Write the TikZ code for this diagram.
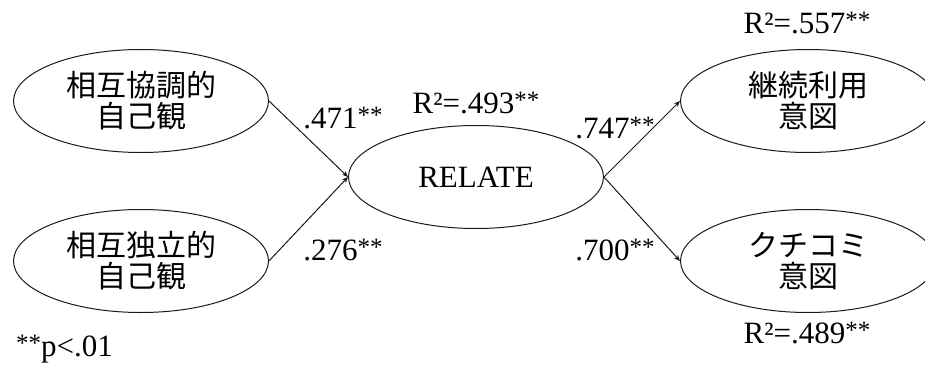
\documentclass[tikz,border=0pt]{standalone}
\usepackage{fontspec}
\setmainfont{Liberation Serif}
\newfontfamily\jafont{Noto Sans CJK JP}
\usetikzlibrary{
  arrows.meta,
  shapes.geometric,
  positioning
}
\definecolor{pmLine}{HTML}{1A1A1A}
\newcommand{\sigmark}{\raisebox{0.18em}{\fontsize{25}{25}\selectfont **}}
\tikzset{
  latent/.style={
    draw=pmLine, ellipse, line width=1pt, minimum width=255pt, minimum height=103pt,
    inner sep=0pt, align=center, font=\fontsize{30}{31}\selectfont\jafont
  },
  pathline/.style={-{Stealth[length=6pt, width=5pt]}, line width=1pt, pmLine},
  coef/.style={font=\fontsize{31}{32}\selectfont, inner sep=0pt}
}

\begin{document}
\begin{tikzpicture}[x=1pt, y=-1pt]
  \clip (0,0) rectangle (925,369);
  % latent variables
  \node[latent] (inter) at (141,101) {相互協調的\\自己観};
  \node[latent] (indep) at (141,261) {相互独立的\\自己観};
  \node[latent, font=\fontsize{31}{32}\selectfont] (relate) at (476,177) {RELATE};
  \node[latent] (cont) at (808,101) {継続利用\\意図};
  \node[latent] (wom) at (808,261) {クチコミ\\意図};
  % paths
  \draw[pathline] (inter.east) -- (relate.west);
  \draw[pathline] (indep.east) -- (relate.west);
  \draw[pathline] (relate.east) -- (cont.west);
  \draw[pathline] (relate.east) -- (wom.west);
  % coefficients
  \node[coef] (c1) at (343,118) {.471\sigmark};
  \node[coef] (c2) at (343,250) {.276\sigmark};
  \node[coef] (c3) at (615,128) {.747\sigmark};
  \node[coef] (c4) at (615,250) {.700\sigmark};
  \node[coef] (r1) at (476,103) {R²=.493\sigmark};
  \node[coef] (r2) at (807,23) {R²=.557\sigmark};
  \node[coef] (r3) at (807,333) {R²=.489\sigmark};
  \node[coef, anchor=west] (note) at (16,349) {\sigmark p<.01};
\end{tikzpicture}
\end{document}
